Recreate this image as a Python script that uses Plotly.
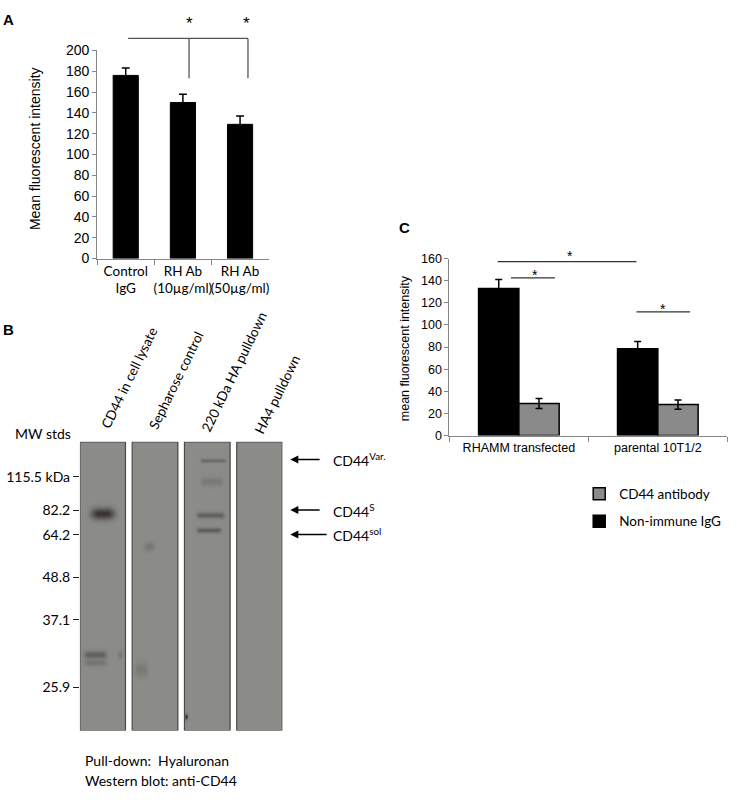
import numpy as np
import plotly.graph_objects as go

# ---------------- data ----------------
a_categories = ["Control<br>IgG", "RH Ab<br>(10µg/ml)", "RH Ab<br>(50µg/ml)"]
a_values = [176, 150, 129]
a_errors = [7, 8, 8]

c_categories = ["RHAMM transfected", "parental 10T1/2"]
c_igg = [133, 78.5]
c_igg_err = [8, 6.5]
c_cd44 = [29, 28]
c_cd44_err = [4.5, 4.2]

blot_lanes = ["CD44 in cell lysate", "Sepharose control", "220 kDa HA pulldown", "HA4 pulldown"]
mw_labels = ["115.5 kDa", "82.2", "64.2", "48.8", "37.1", "25.9"]
mw_migration = [35.6, 70, 95, 138.3, 181.6, 250.6]

band_lane = [0, 0, 0, 0, 1, 1, 2, 2, 2, 2, 2]
band_migration = [73, 217, 225, 217, 107, 232, 19, 40, 74.6, 89.6, 280]
band_darkness = [0.85, 0.42, 0.22, 0.18, 0.2, 0.18, 0.32, 0.18, 0.42, 0.45, 1.0]
band_left = [0.12, 0.02, 0.02, 0.78, 0.2, 0.0, 0.3, 0.3, 0.22, 0.22, 0.0]
band_right = [0.88, 0.66, 0.66, 0.98, 0.55, 0.4, 0.95, 0.9, 0.92, 0.85, 0.09]
band_sigma = [4.0, 2.6, 2.2, 2.5, 3, 5, 1.3, 3, 2.0, 1.8, 1.8]
band_edge = [0.3, 0.18, 0.18, 0.1, 0.15, 0.15, 0.12, 0.15, 0.12, 0.12, 0.04]

# ---------------- helpers ----------------
W, H = 737, 800
def px(x):
    return x / W
def py(y):
    return 1 - y / H

ARIAL = "Liberation Sans, Arial, sans-serif"
CAL = "Lato, Open Sans, sans-serif"
AXC = "#878787"

fig = go.Figure()

# ---------------- panel A ----------------
fig.add_trace(go.Bar(
    x=a_categories, y=a_values, xaxis="x", yaxis="y",
    width=0.44, marker=dict(color="black", line=dict(color="black", width=1)),
    error_y=dict(type="data", array=a_errors, color="black", thickness=1.5, width=4),
    showlegend=False, hoverinfo="skip"))

# ---------------- panel C ----------------
fig.add_trace(go.Bar(
    x=c_categories, y=c_igg, xaxis="x2", yaxis="y2", name="Non-immune IgG",
    legendgroup="g1", legendrank=2,
    marker=dict(color="black", line=dict(color="black", width=1.5)),
    error_y=dict(type="data", array=c_igg_err, color="black", thickness=1.5, width=3.5),
    hoverinfo="skip"))
fig.add_trace(go.Bar(
    x=c_categories, y=c_cd44, xaxis="x2", yaxis="y2", name="CD44 antibody",
    legendgroup="g2", legendrank=1,
    marker=dict(color="#8a8a8a", line=dict(color="black", width=1.5)),
    error_y=dict(type="data", array=c_cd44_err, color="black", thickness=1.5, width=3.5),
    hoverinfo="skip"))

# ---------------- panel B (blot) ----------------
half = 0.436
ncol = 46
rows = np.arange(0.5, 295, 1.0)
for li, name in enumerate(blot_lanes):
    fr = (np.arange(ncol) + 0.5) / ncol
    xs = li - half + fr * 2 * half
    z = np.zeros((len(rows), ncol))
    for b in range(len(band_lane)):
        if band_lane[b] != li:
            continue
        edge = band_edge[b]
        wx = np.clip((fr - band_left[b]) / edge, 0, 1) * np.clip((band_right[b] - fr) / edge, 0, 1)
        wx = wx * wx * (3 - 2 * wx)
        wy = np.exp(-0.5 * ((rows - band_migration[b]) / band_sigma[b]) ** 2)
        z += band_darkness[b] * np.outer(wy, wx)
    z = np.clip(z, 0, 1)
    fig.add_trace(go.Heatmap(
        x=xs, y=rows, z=z, xaxis="x3", yaxis="y3", zmin=0, zmax=1, zauto=False,
        zsmooth="best",
        colorscale=[[0, "#8b8b87"], [1, "#2a2525"]],
        showscale=False, hoverinfo="skip"))

shapes = []
for li in range(len(blot_lanes)):
    shapes.append(dict(type="rect", xref="x3", yref="y3", x0=li - half, x1=li + half,
                       y0=0, y1=294.6, line=dict(color="#4a4a4a", width=1.2)))

# significance lines A
lineA = dict(color="#555555", width=1.3)
shapes += [
    dict(type="line", xref="paper", yref="paper", x0=px(128.3), x1=px(248.3), y0=py(31), y1=py(31), line=lineA),
    dict(type="line", xref="paper", yref="paper", x0=px(189.3), x1=px(189.3), y0=py(31), y1=py(71.7), line=lineA),
    dict(type="line", xref="paper", yref="paper", x0=px(248.3), x1=px(248.3), y0=py(31), y1=py(71.7), line=lineA),
]
# significance lines C
lineC = dict(color="#333333", width=1.2)
shapes += [
    dict(type="line", xref="paper", yref="paper", x0=px(498.3), x1=px(637.3), y0=py(258.7), y1=py(258.7), line=lineC),
    dict(type="line", xref="paper", yref="paper", x0=px(511.7), x1=px(555.7), y0=py(275.3), y1=py(275.3), line=lineC),
    dict(type="line", xref="paper", yref="paper", x0=px(637.3), x1=px(691), y0=py(310), y1=py(310), line=lineC),
]

ann = []
def text(x, y, t, size, family=CAL, xanchor="center", angle=0, bold=False, color="black"):
    if bold:
        t = "<b>" + t + "</b>"
    ann.append(dict(x=px(x), y=py(y), xref="paper", yref="paper", text=t, showarrow=False,
                    xanchor=xanchor, yanchor="middle", textangle=angle,
                    font=dict(family=family, size=size, color=color)))

# panel letters
text(8.5, 12, "A", 15, ARIAL, bold=True)
text(8.5, 328.5, "B", 15, ARIAL, bold=True)
text(405, 223.5, "C", 15, ARIAL, bold=True)

# stars
text(190, 15.5, "*", 17, ARIAL)
text(246.7, 15.5, "*", 17, ARIAL)
text(570.7, 253.5, "*", 14, ARIAL)
text(535.7, 272.5, "*", 14, ARIAL)
text(664.3, 307.5, "*", 14, ARIAL)

# y titles
text(35, 143, "Mean fluorescent intensity", 14, ARIAL, angle=-90)
text(405, 346.7, "mean fluorescent intensity", 12.5, ARIAL, angle=-90)

# blot texts
text(43.5, 434, "MW stds", 14)
lane_mid = [(129.2, 377.5), (176.7, 380), (234, 371), (277.5, 395)]
for name, (mx, my) in zip(blot_lanes, lane_mid):
    text(mx, my, name, 13.5, angle=-64)

arrow_y = [460.7, 512.3, 537.3]
arrow_gap = [11, 11, 4]
arrow_txt = ["CD44<sup>Var.</sup>", "CD44<sup>S</sup>", "CD44<sup>sol</sup>"]
for ay_, gap, t in zip(arrow_y, arrow_gap, arrow_txt):
    ann.append(dict(x=px(290.7), y=py(ay_), xref="paper", yref="paper", text=t,
                    showarrow=True, ax=331 - 290.7, ay=0, xanchor="left", yanchor="middle",
                    arrowhead=2, arrowsize=1, arrowwidth=1.6, arrowcolor="black",
                    standoff=0, startstandoff=gap,
                    font=dict(family=CAL, size=14, color="black")))

text(82.7, 768, "Pull-down:\u00a0 Hyaluronan", 14, xanchor="left")
text(82.7, 788, "Western blot: anti-CD44", 14, xanchor="left")

fig.update_layout(
    width=W, height=H, margin=dict(l=0, r=0, t=0, b=0),
    paper_bgcolor="white", plot_bgcolor="rgba(0,0,0,0)",
    barmode="group", bargap=0.42, bargroupgap=0,
    shapes=shapes, annotations=ann,
    legend=dict(x=px(580), y=py(480), xanchor="left", yanchor="top",
                traceorder="grouped", tracegroupgap=7,
                font=dict(family=CAL, size=13.5, color="black"),
                bgcolor="rgba(0,0,0,0)"),
    xaxis=dict(domain=[px(97.3), px(269)], anchor="y", type="category",
               showline=True, linecolor=AXC, linewidth=1, ticks="outside",
               tickson="boundaries", ticklen=5, tickcolor=AXC, showgrid=False,
               tickangle=0,
               tickfont=dict(family=CAL, size=13.5, color="black"), fixedrange=True),
    yaxis=dict(domain=[py(255.7), py(43.3)], anchor="x", range=[0, 200], dtick=20,
               showline=True, linecolor=AXC, linewidth=1, ticks="outside", ticklen=4,
               tickcolor=AXC, showgrid=False, zeroline=False,
               tickfont=dict(family=ARIAL, size=14, color="black"), fixedrange=True),
    xaxis2=dict(domain=[px(450), px(728.3)], anchor="y2", type="category",
                showline=True, linecolor=AXC, linewidth=1, ticks="outside",
                tickson="boundaries", ticklen=5, tickcolor=AXC, showgrid=False,
                tickangle=0,
                tickfont=dict(family=ARIAL, size=12.5, color="black"), fixedrange=True),
    yaxis2=dict(domain=[py(436.3), py(255.7)], anchor="x2", range=[0, 160], dtick=20,
                showline=True, linecolor=AXC, linewidth=1, ticks="outside", ticklen=4,
                tickcolor=AXC, showgrid=False, zeroline=False,
                tickfont=dict(family=ARIAL, size=12.5, color="black"), fixedrange=True),
    xaxis3=dict(domain=[px(80), px(282.7)], anchor="y3", range=[-half, 3 + half],
                visible=False, fixedrange=True),
    yaxis3=dict(domain=[py(737.3), py(442.7)], anchor="x3", range=[294.6, 0],
                tickvals=mw_migration, ticktext=mw_labels, ticks="outside", ticklen=6,
                tickcolor="#222222", tickwidth=1.2, showline=False, showgrid=False,
                zeroline=False, tickfont=dict(family=CAL, size=14, color="black"),
                fixedrange=True),
)

fig.write_html("out.html", config={"displayModeBar": False},
               post_script="document.body.style.margin='0';document.body.style.overflow='hidden';")
